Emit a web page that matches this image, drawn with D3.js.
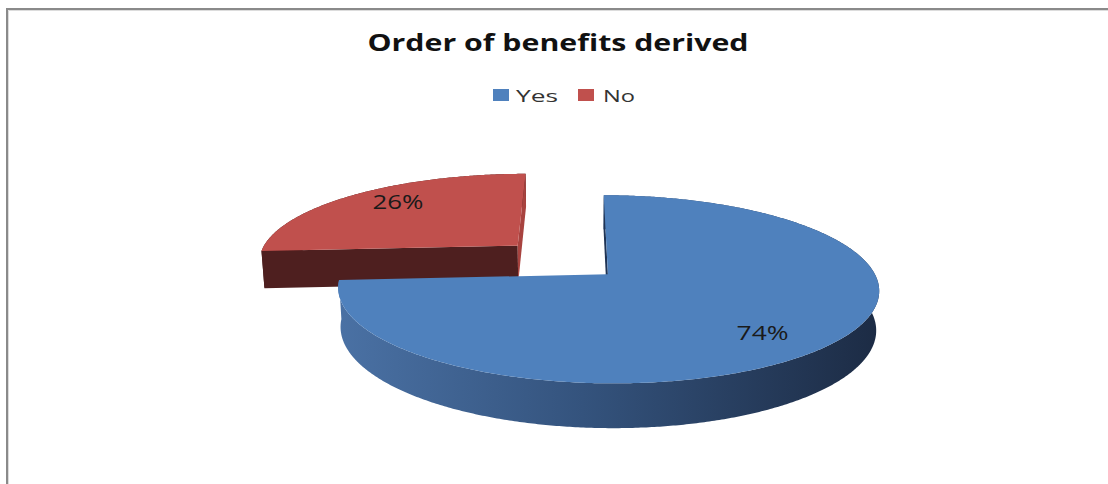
<!DOCTYPE html>
<html>
<head>
<meta charset="utf-8">
<script src="https://cdn.jsdelivr.net/npm/d3@7/dist/d3.min.js"></script>
<style>
  html, body { margin: 0; padding: 0; background: #ffffff; }
  svg { display: block; }
  text { font-family: "Open Sans", "Noto Sans", sans-serif; }
</style>
</head>
<body>
<svg id="chart" width="1108" height="484"></svg>
<script>
// Survey answers
const categories = ["Yes", "No"];
const values = [74, 26];
const chartTitle = "Order of benefits derived";

const svg = d3.select("#chart");

// Frame of the chart area (open to the right and bottom)
svg.append("path").attr("d", "M8.5,484V10.5H1108").attr("fill", "none").attr("stroke", "#dcdcdc").attr("stroke-width", 1);
svg.append("path").attr("d", "M7,484V9H1108").attr("fill", "none").attr("stroke", "#8a8a8a").attr("stroke-width", 2);

// Title
svg.append("text")
  .attr("x", 558).attr("y", 51)
  .attr("text-anchor", "middle")
  .attr("font-size", 23).attr("font-weight", 700)
  .attr("fill", "#111")
  .attr("textLength", 381).attr("lengthAdjust", "spacingAndGlyphs")
  .text(chartTitle);

// Colours per category
const topColor = d3.scaleOrdinal().domain(categories).range(["#4F81BD", "#C0504D"]);
const startFace = d3.scaleOrdinal().domain(categories).range(["#1f3455", "#4e1f1f"]);
const endFace = d3.scaleOrdinal().domain(categories).range(["#24395c", "#a8433f"]);

// Legend
const legendItems = [
  { name: categories[0], x: 493, w: 16, tx: 516, tl: 42 },
  { name: categories[1], x: 578, w: 16, tx: 603, tl: 32 }
];
const lg = svg.append("g");
legendItems.forEach(it => {
  lg.append("rect").attr("x", it.x).attr("y", 89).attr("width", it.w).attr("height", 12)
    .attr("fill", topColor(it.name));
  lg.append("text").attr("x", it.tx).attr("y", 101.5)
    .attr("font-size", 17).attr("fill", "#333")
    .attr("textLength", it.tl).attr("lengthAdjust", "spacingAndGlyphs")
    .text(it.name);
});

// Perspective camera for the 3-D pie (unit radius, thickness T)
const phi = 21.5 * Math.PI / 180;
const sinP = Math.sin(phi), cosP = Math.cos(phi);
const dist = 5.87, scale = 1552, camX = -0.112;
const cx = 578, cy = 313;
const T = 0.156;
const explodeBy = { "No": 0.48 };

function project(X, Z, h) {
  const yc = h * cosP + Z * sinP;
  const d = dist + Z * cosP - h * sinP;
  return [cx + scale * (X - camX) / d, cy - scale * yc / d];
}

const pie = d3.pie().sort(null).value(d => d.value);
const slices = pie(categories.map((c, i) => ({ name: c, value: values[i] })));

slices.forEach(s => {
  const mid = (s.startAngle + s.endAngle) / 2;
  const e = explodeBy[s.data.name] || 0;
  s.ox = e * Math.sin(mid);
  s.oz = e * Math.cos(mid);
  s.mid = mid;
});

function arcPts(s, h) {
  const n = Math.ceil((s.endAngle - s.startAngle) / (Math.PI / 360));
  return d3.range(n + 1).map(i => {
    const t = s.startAngle + (s.endAngle - s.startAngle) * i / n;
    return project(s.ox + Math.sin(t), s.oz + Math.cos(t), h);
  });
}
function signedArea(pts) {
  let a = 0;
  for (let i = 0; i < pts.length; i++) {
    const p = pts[i], q = pts[(i + 1) % pts.length];
    a += p[0] * q[1] - q[0] * p[1];
  }
  return a / 2;
}
const line = d3.line();

const defs = svg.append("defs");
const grad = defs.append("linearGradient").attr("id", "wallYes")
  .attr("gradientUnits", "userSpaceOnUse")
  .attr("x1", 340).attr("y1", 0).attr("x2", 880).attr("y2", 0);
grad.append("stop").attr("offset", 0).attr("stop-color", "#4a71a4");
grad.append("stop").attr("offset", 0.45).attr("stop-color", "#34537d");
grad.append("stop").attr("offset", 1).attr("stop-color", "#1c2b44");

// Back slices first (farther from the camera), then the front ones
const order = slices.slice().sort((a, b) => b.oz - a.oz);
const pieG = svg.append("g");

order.forEach(s => {
  const g = pieG.append("g");
  const name = s.data.name;
  const apexTop = project(s.ox, s.oz, T), apexBot = project(s.ox, s.oz, 0);
  // outer wall (its far part ends up under the top face)
  const top = arcPts(s, T), bot = arcPts(s, 0).reverse();
  g.append("path")
    .attr("d", line(top.concat(bot)) + "Z")
    .attr("fill", name === "Yes" ? "url(#wallYes)" : startFace(name));
  // radial cut faces, only those turned towards the viewer
  [s.startAngle, s.endAngle].forEach((t, k) => {
    const eTop = project(s.ox + Math.sin(t), s.oz + Math.cos(t), T);
    const eBot = project(s.ox + Math.sin(t), s.oz + Math.cos(t), 0);
    const quad = [apexTop, eTop, eBot, apexBot];
    const area = signedArea(quad);
    const facing = k === 0 ? area < 0 : area > 0;
    if (!facing) return;
    g.append("path")
      .attr("d", line(quad) + "Z")
      .attr("fill", k === 0 ? startFace(name) : endFace(name));
  });
  // top face
  g.append("path")
    .attr("d", line([apexTop].concat(top)) + "Z")
    .attr("fill", topColor(name));
});

// Percentage labels on the top faces
const labelK = 0.72;
const labelLen = { "Yes": 52, "No": 51 };
const labelShift = { "Yes": 10, "No": -6 };
slices.forEach(s => {
  const p = project(s.ox + labelK * Math.sin(s.mid), s.oz + labelK * Math.cos(s.mid), T);
  svg.append("text")
    .attr("x", p[0]).attr("y", p[1] + 7 + labelShift[s.data.name])
    .attr("text-anchor", "middle")
    .attr("font-size", 20).attr("fill", "#1a1a1a")
    .attr("textLength", labelLen[s.data.name]).attr("lengthAdjust", "spacingAndGlyphs")
    .text(s.data.value + "%");
});
</script>
</body>
</html>
